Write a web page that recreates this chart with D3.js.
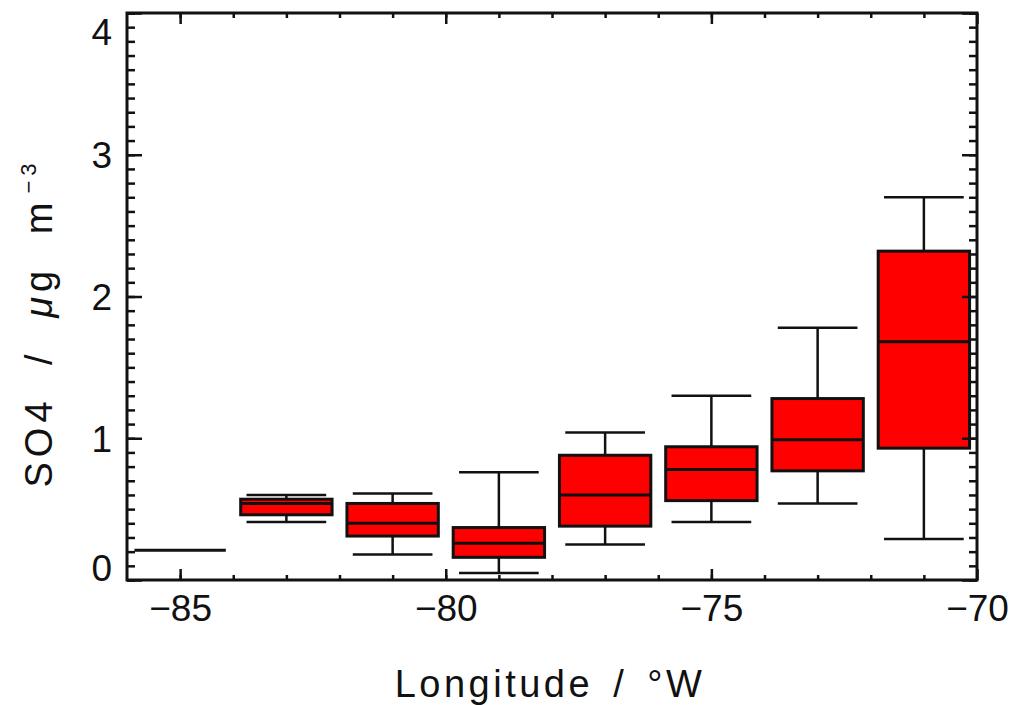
<!DOCTYPE html>
<html>
<head>
<meta charset="utf-8">
<script src="https://cdn.jsdelivr.net/npm/d3@7"></script>
<style>
  body { margin: 0; background: #fff; }
  text { font-family: "Liberation Sans", Arial, sans-serif; fill: #111; }
</style>
</head>
<body>
<script>
// box stats per longitude bin (SO4, ug m-3)
var lons   = [-85, -83, -81, -79, -77, -75, -73, -71];
var lowW   = [0.21, 0.41, 0.18, 0.05, 0.25, 0.41, 0.54, 0.29];
var q1     = [0.21, 0.46, 0.31, 0.16, 0.38, 0.56, 0.77, 0.93];
var median = [0.21, 0.54, 0.40, 0.26, 0.60, 0.78, 0.99, 1.68];
var q3     = [0.21, 0.57, 0.54, 0.37, 0.88, 0.94, 1.28, 2.32];
var highW  = [0.21, 0.60, 0.61, 0.76, 1.04, 1.30, 1.78, 2.70];
var xTicks = [-85, -80, -75, -70];
var yTicks = [0, 1, 2, 3, 4];

var W = 1022, H = 705;
var pL = 127, pR = 977, pT = 13, pB = 580;

var svg = d3.select("body").append("svg")
    .attr("width", W)
    .attr("height", H);

var x = d3.scaleLinear().domain([-86, -70]).range([pL, pR]);
var y = d3.scaleLinear().domain([0, 4]).range([pB, pT]);

var data = lons.map(function(d, i) {
    return { lon: d, lo: lowW[i], q1: q1[i], med: median[i], q3: q3[i], hi: highW[i] };
});

var boxW = 1.72, capW = 1.5;

var g = svg.append("g");

// whiskers
data.forEach(function(d) {
    if (d.hi === d.lo) return;
    var cx = x(d.lon);
    g.append("line").attr("x1", cx).attr("x2", cx).attr("y1", y(d.hi)).attr("y2", y(d.lo))
        .attr("stroke", "#111").attr("stroke-width", 2.5);
    [d.hi, d.lo].forEach(function(v) {
        g.append("line")
            .attr("x1", x(d.lon - capW / 2)).attr("x2", x(d.lon + capW / 2))
            .attr("y1", y(v)).attr("y2", y(v))
            .attr("stroke", "#111").attr("stroke-width", 2.5);
    });
});

// boxes
data.forEach(function(d) {
    if (d.q3 === d.q1) {
        g.append("line")
            .attr("x1", x(d.lon - boxW / 2)).attr("x2", x(d.lon + boxW / 2))
            .attr("y1", y(d.med)).attr("y2", y(d.med))
            .attr("stroke", "#111").attr("stroke-width", 3);
        return;
    }
    g.append("rect")
        .attr("x", x(d.lon - boxW / 2))
        .attr("y", y(d.q3))
        .attr("width", x(d.lon + boxW / 2) - x(d.lon - boxW / 2))
        .attr("height", y(d.q1) - y(d.q3))
        .attr("fill", "#ff0000")
        .attr("stroke", "#111").attr("stroke-width", 3);
    g.append("line")
        .attr("x1", x(d.lon - boxW / 2)).attr("x2", x(d.lon + boxW / 2))
        .attr("y1", y(d.med)).attr("y2", y(d.med))
        .attr("stroke", "#111").attr("stroke-width", 3);
});

// axes
var xMinor = d3.range(-85, -70, 1);
var yMinor = d3.range(0, 4.001, 0.1);

function styleAxis(sel) {
    sel.select(".domain").remove();
    sel.selectAll("line").attr("stroke", "#111").attr("stroke-width", 2.5);
    sel.selectAll("text").style("font-size", "37px").attr("fill", "#111");
}

svg.append("g").attr("transform", "translate(0," + pB + ")")
    .call(d3.axisBottom(x).tickValues(xMinor).tickSize(-5).tickFormat(""))
    .call(styleAxis);
svg.append("g").attr("transform", "translate(0," + pT + ")")
    .call(d3.axisTop(x).tickValues(xMinor).tickSize(-5).tickFormat(""))
    .call(styleAxis);
svg.append("g").attr("transform", "translate(0," + pB + ")")
    .call(d3.axisBottom(x).tickValues(xTicks).tickSize(-11).tickPadding(15)
        .tickFormat(function(d) { return "\u2212" + Math.abs(d); }))
    .call(styleAxis);
svg.append("g").attr("transform", "translate(0," + pT + ")")
    .call(d3.axisTop(x).tickValues(xTicks).tickSize(-11).tickFormat(""))
    .call(styleAxis);

svg.append("g").attr("transform", "translate(" + pL + ",0)")
    .call(d3.axisLeft(y).tickValues(yMinor).tickSize(-8).tickFormat(""))
    .call(styleAxis);
svg.append("g").attr("transform", "translate(" + pR + ",0)")
    .call(d3.axisRight(y).tickValues(yMinor).tickSize(-8).tickFormat(""))
    .call(styleAxis);
var yAx = svg.append("g").attr("transform", "translate(" + pL + ",0)")
    .call(d3.axisLeft(y).tickValues(yTicks).tickSize(-15).tickPadding(15).tickFormat(d3.format("d")))
    .call(styleAxis);
svg.append("g").attr("transform", "translate(" + pR + ",0)")
    .call(d3.axisRight(y).tickValues(yTicks).tickSize(-15).tickFormat(""))
    .call(styleAxis);

// keep end labels inside the frame like the original
yAx.selectAll(".tick text").attr("dy", function(d) {
    if (d === 4) return 31;
    if (d === 0) return 0;
    return 13;
});

// frame
svg.append("rect")
    .attr("x", pL).attr("y", pT)
    .attr("width", pR - pL).attr("height", pB - pT)
    .attr("fill", "none").attr("stroke", "#111").attr("stroke-width", 3);

// axis titles
svg.append("text")
    .attr("x", (pL + pR) / 2 - 2)
    .attr("y", 697)
    .attr("text-anchor", "middle")
    .style("font-size", "38px")
    .style("letter-spacing", "3.5px")
    .style("word-spacing", "6px")
    .text("Longitude / \u00b0W");

var yl = svg.append("text")
    .attr("transform", "translate(52,323) rotate(-90)")
    .attr("text-anchor", "middle")
    .style("font-size", "38px")
    .style("letter-spacing", "5px")
    .style("word-spacing", "16px");
yl.append("tspan").text("SO4 / ");
yl.append("tspan").style("font-style", "italic").text("\u03bc");
yl.append("tspan").text("g m");
yl.append("tspan").attr("dy", "-0.75em").attr("dx", 4).style("font-size", "22px").text("\u22123");
</script>
</body>
</html>
